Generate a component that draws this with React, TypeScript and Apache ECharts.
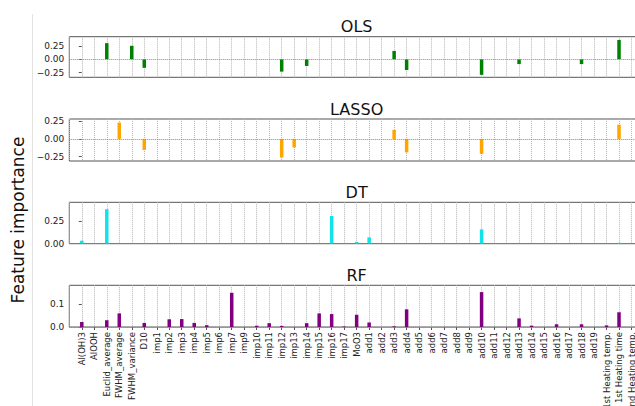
import React, { useEffect, useRef } from "react";
import * as echarts from "echarts";

const categories = [
  "Al(OH)3", "AlOOH", "Euclid_average", "FWHM_average", "FWHM_variance", "D10",
  "imp1", "imp2", "imp3", "imp4", "imp5", "imp6", "imp7", "imp9", "imp10", "imp11",
  "imp12", "imp13", "imp14", "imp15", "imp16", "imp17", "MoO3",
  "add1", "add2", "add3", "add4", "add5", "add6", "add7", "add8", "add9", "add10",
  "add11", "add12", "add13", "add14", "add15", "add16", "add17", "add18", "add19",
  "1st Heating temp.", "1st Heating time", "2nd Heating temp.",
];

const olsValues = [
  0, 0, 0.30, 0, 0.25, -0.16, 0, 0, 0, 0, 0, 0, 0, 0, 0, 0,
  -0.23, 0, -0.125, 0, 0, 0, 0,
  0, 0, 0.155, -0.2, 0, 0, 0, 0, 0, -0.29,
  0, 0, -0.09, 0, 0, 0, 0, -0.09, 0,
  0, 0.36, 0,
];

const lassoValues = [
  0, 0, 0, 0.23, 0, -0.155, 0, 0, 0, 0, 0, 0, 0, -0.01, 0, 0,
  -0.26, -0.12, 0, 0, 0, 0, 0,
  0, 0, 0.127, -0.19, 0, 0, 0, 0, 0, -0.21,
  0, 0, -0.01, 0, 0, 0, 0, -0.01, 0,
  0, 0.2, 0,
];

const dtValues = [
  0.033, 0, 0.38, 0, 0, 0, 0, 0, 0, 0, 0, 0, 0, 0, 0, 0,
  0, 0, 0, 0, 0.305, 0, 0.02,
  0.07, 0, 0, 0, 0, 0, 0, 0, 0, 0.158,
  0, 0, 0, 0, 0, 0, 0, 0, 0,
  0, 0.01, 0,
];

const rfValues = [
  0.022, 0, 0.03, 0.06, 0, 0.018, 0, 0.034, 0.035, 0.018, 0.008, 0, 0.151, 0, 0.006, 0.017,
  0.005, 0, 0.017, 0.06, 0.057, 0.002, 0.054,
  0.02, 0, 0.003, 0.078, 0, 0, 0, 0, 0, 0.154,
  0, 0, 0.038, 0.006, 0, 0.012, 0, 0.012, 0,
  0.007, 0.065, 0,
];

const panelTitles = ["OLS", "LASSO", "DT", "RF"];
const panelValues = [olsValues, lassoValues, dtValues, rfValues];
const yTickValues = [
  [-0.25, 0, 0.25],
  [-0.25, 0, 0.25],
  [0, 0.25],
  [0, 0.1],
];
const yTickDecimals = [2, 2, 2, 1];
const yLimits = [
  [-0.336, 0.42],
  [-0.31, 0.28],
  [0, 0.456],
  [0, 0.184],
];
const yAxisTitle = "Feature importance";

export default function App() {
  const ref = useRef<HTMLDivElement>(null);

  useEffect(() => {
    if (!ref.current) return;
    const chart = echarts.init(ref.current, null, { renderer: "svg" });
    const font = "DejaVu Sans";
    const colors = ["#008000", "#ffa500", "#12e2ea", "#800080"];
    const tops = [36.7, 119, 202.3, 285.3];
    const heights = [40.6, 42, 41.4, 41.7];
    const titleY = [26.5, 109, 192.5, 275];
    const left = 69.3;
    const width = 574.7;

    const grids = panelTitles.map((_, i) => ({
      left,
      top: tops[i],
      width,
      height: heights[i],
      outerBoundsMode: "none",
      containLabel: false,
      show: true,
      borderColor: "#555",
      borderWidth: 1,
      backgroundColor: "transparent",
    }));

    const xAxes = panelTitles.map((_, i) => ({
      type: "value" as const,
      gridIndex: i,
      min: -1,
      max: categories.length,
      interval: 1,
      axisLine: { show: false },
      axisTick: { show: i === 3, length: 3, lineStyle: { color: "#555" } },
      axisLabel: {
        show: i === 3,
        rotate: 90,
        fontSize: 8.5,
        fontFamily: font,
        color: "#222",
        margin: 5,
        showMinLabel: false,
        showMaxLabel: false,
        formatter: (v: number) => categories[Math.round(v)] ?? "",
      },
      splitLine: {
        show: true,
        lineStyle: { color: "#b5b5b5", type: "dotted" as const, width: 1 },
      },
    }));

    const yAxes = panelTitles.map((_, i) => ({
      type: "value" as const,
      gridIndex: i,
      min: yLimits[i][0],
      max: yLimits[i][1],
      axisLine: { show: false },
      axisTick: {
        show: true,
        length: 3,
        lineStyle: { color: "#555" },
        customValues: yTickValues[i],
      },
      axisLabel: {
        fontSize: 9,
        fontFamily: font,
        color: "#222",
        margin: 5,
        customValues: yTickValues[i],
        formatter: (v: number) => {
          const s = Math.abs(v).toFixed(yTickDecimals[i]);
          return v < -1e-9 ? "\u2212" + s : s;
        },
      },
      splitLine: { show: false },
    }));

    const series = panelTitles.map((name, i) => ({
      type: "bar" as const,
      name,
      xAxisIndex: i,
      yAxisIndex: i,
      barWidth: 3.5,
      itemStyle: { color: colors[i] },
      data: panelValues[i].map((v, k) => [k, v]),
      markLine: {
        silent: true,
        symbol: "none",
        label: { show: false },
        lineStyle: { color: "#888", type: "dotted" as const, width: 1 },
        data: [{ yAxis: 0 }],
      },
    }));

    const titleGraphics = panelTitles.map((t, i) => ({
      type: "text" as const,
      x: left + width / 2,
      y: titleY[i],
      style: {
        text: t,
        fontSize: 16,
        fontFamily: font,
        fill: "#111",
        align: "center" as const,
        verticalAlign: "middle" as const,
      },
    }));

    chart.setOption({
      animation: false,
      grid: grids,
      xAxis: xAxes,
      yAxis: yAxes,
      series,
      graphic: [
        {
          type: "line",
          shape: { x1: 32.5, y1: 14, x2: 32.5, y2: 406 },
          style: { stroke: "#e2e2e2", lineWidth: 1 },
        },
        {
          type: "text",
          x: 18,
          y: 220,
          rotation: Math.PI / 2,
          style: {
            text: yAxisTitle,
            fontSize: 17,
            fontFamily: font,
            fill: "#111",
            align: "center",
            verticalAlign: "middle",
          },
        },
        ...titleGraphics,
      ],
    });

    return () => chart.dispose();
  }, []);

  return (
    <div
      style={{
        position: "fixed",
        left: 0,
        top: 0,
        width: 635,
        height: 406,
        overflow: "hidden",
        background: "#fff",
      }}
    >
      <div ref={ref} style={{ width: 660, height: 406 }} />
    </div>
  );
}
